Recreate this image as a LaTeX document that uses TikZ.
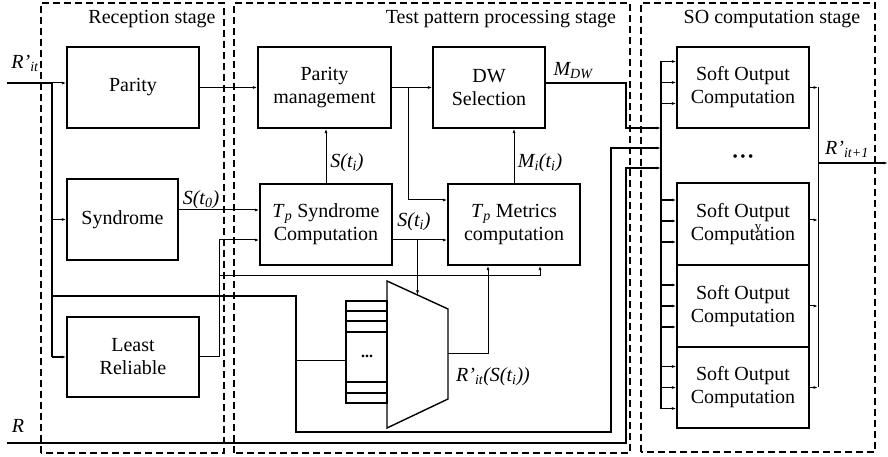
\documentclass[tikz,border=0pt]{standalone}
\usepackage{fontspec}
\setmainfont{Liberation Serif}
\usetikzlibrary{arrows.meta, calc, positioning}

\tikzset{
  blk/.style={draw, line width=1.4pt, minimum width=132pt, minimum height=81pt, align=center, inner sep=2pt, font=\fontsize{20}{23}\selectfont},
  stagebox/.style={draw, line width=2pt, dash pattern=on 7pt off 4pt},
  stagelbl/.style={font=\fontsize{20}{23}\selectfont},
  sig/.style={font=\fontsize{20}{23}\selectfont\itshape, inner sep=0pt},
  wire/.style={line width=1pt},
  bus/.style={line width=1.7pt},
  arr/.style={-{Latex[length=4.5pt,width=3pt]}},
}

\begin{document}
\begin{tikzpicture}[x=1pt, y=1pt]
  \useasboundingbox (0,0) rectangle (888,457);

  % stages
  \draw[stagebox] (41,4) rectangle (224,454);
  \draw[stagebox] (234,4) rectangle (630,454);
  \draw[stagebox] (641,5) rectangle (875,454);
  \node[stagelbl] (reclbl) at (152,438) {Reception stage};
  \node[stagelbl] (tplbl) at (501,438) {Test pattern processing stage};
  \node[stagelbl] (solbl) at (772,438) {SO computation stage};

  % reception stage
  \node[blk] (parity) at (133,369.5) {Parity};
  \node[blk, minimum width=111pt] (syndrome) at (122.5,237.5) {Syndrome};
  \node[blk, minimum height=80pt] (leastrel) at (133,100) {Least\\Reliable};

  % test pattern processing stage
  \node[blk, minimum width=133pt] (paritymgmt) at (324.5,369.5) {Parity\\management};
  \node[blk, minimum width=112pt] (dwsel) at (489,369.5) {DW\\Selection};
  \node[blk] (tpsyn) at (326,232.5) {\textit{T}\textsubscript{\textit{p}} Syndrome\\Computation};
  \node[blk] (tpmet) at (514,232.5) {\textit{T}\textsubscript{\textit{p}} Metrics\\computation};

  \coordinate (muxtl) at (387,176);
  \coordinate (muxtr) at (448,148);
  \coordinate (muxbr) at (448,58);
  \coordinate (muxbl) at (387,29);
  \draw[line width=1.4pt] (muxtl) -- (muxtr) -- (muxbr) -- (muxbl) -- cycle;
  \node[draw, line width=1.4pt, minimum width=41pt, minimum height=102pt, inner sep=0pt] (regs) at (366.5,105) {};
  \foreach \y in {64,75,125,136,146}
    \draw[line width=1.2pt] (regs.west |- 0,\y) -- (regs.east |- 0,\y);
  \node[font=\fontsize{16}{16}\selectfont\bfseries] (regdots) at (367,101) {...};

  % SO computation stage
  \node[blk, minimum height=81pt] (so1) at (743,369.5) {Soft Output\\Computation};
  \node[font=\fontsize{15}{15}\selectfont] (sodots) at (743,299) {\textbullet\,\textbullet\,\textbullet};
  \node[blk, minimum height=82pt] (so2) at (743,233) {Soft Output\\Computation};
  \node[blk, minimum height=82pt] (so3) at (743,151) {Soft Output\\Computation};
  \node[blk, minimum height=81pt] (so4) at (743,69.5) {Soft Output\\Computation};
  \node[font=\fontsize{13}{13}\selectfont, inner sep=0pt] (stray) at (758,228) {y};

  % R'_it input and its bus
  \coordinate (ritin) at (7,374);
  \coordinate (ritbus) at (52,374);
  \coordinate (ritlow) at (52,161);
  \coordinate (regfeed) at (296,96);
  \coordinate (ritbot) at (296,25);
  \coordinate (ritso) at (611,309);
  \coordinate (sobus) at (661,396);
  \coordinate (sobusend) at (661,48.5);
  \node[sig] (ritlbl) at (25,394) {R’\textsubscript{it}};
  \draw[bus] (ritin) -- (ritbus);
  \draw[wire, arr] (ritbus) -- (ritbus -| parity.west);
  \draw[bus] (ritbus) -- (ritbus |- leastrel.west);
  \draw[bus, arr] (ritbus |- syndrome.west) -- (syndrome.west);
  \draw[bus, arr] (ritbus |- leastrel.west) -- (leastrel.west);
  \draw[bus, arr] (ritlow) -| (ritbot) -| (ritso) -- (ritso -| sobus);
  \draw[wire] (regfeed) -- (regfeed -| regs.west);

  % R input
  \coordinate (rin) at (7,14);
  \coordinate (rso) at (626,289);
  \node[sig] (rlbl) at (18,31) {R};
  \draw[bus, arr] (rin) -| (rso) -- (rso -| sobus);

  % test pattern wires
  \draw[wire, arr] (parity.east) -- (paritymgmt.west);
  \draw[wire, arr] ([yshift=9.5pt]syndrome.east) -- ([yshift=9.5pt]syndrome.east -| tpsyn.west);
  \node[sig] (st0lbl) at (201,257) {S(t\textsubscript{0})};
  \coordinate (lrturn) at (219,217);
  \coordinate (lrfeed) at (219,181);
  \draw[wire, arr] (leastrel.east) -| (lrturn) -- (lrturn -| tpsyn.west);
  \draw[wire, arr] (lrfeed) -| ([xshift=26pt]tpmet.south);
  \draw[wire, arr] (paritymgmt.east) -- (dwsel.west);
  \coordinate (pmtap) at (408,369.5);
  \draw[wire, arr] (pmtap) |- ([yshift=24.5pt]tpmet.west);
  \draw[wire, arr] (tpsyn.north) -- (tpsyn.north |- paritymgmt.south);
  \node[sig] (stilbl) at (347,294) {S(t\textsubscript{i})};
  \draw[wire, arr] ([yshift=-15.5pt]tpsyn.east) -- ([yshift=-15.5pt]tpsyn.east -| tpmet.west);
  \node[sig] (stimlbl) at (414,235) {S(t\textsubscript{i})};
  \coordinate (muxin) at ($(muxtl)!0.5!(muxtr)$);
  \draw[wire, arr] (muxin |- lrturn) -- (muxin);
  \draw[wire, arr] (tpmet.north) -- (tpmet.north |- dwsel.south);
  \node[sig] (milbl) at (540,294) {M\textsubscript{i}(t\textsubscript{i})};
  \coordinate (muxout) at ($(muxtr)!0.5!(muxbr)$);
  \draw[wire, arr] (muxout) -| ([xshift=-26pt]tpmet.south);
  \node[sig] (rstlbl) at (493,80) {R’\textsubscript{it}(S(t\textsubscript{i}))};

  % M_DW to the SO stage
  \coordinate (mdwso) at (626,329);
  \draw[bus, arr] ([yshift=4.5pt]dwsel.east) -| (mdwso) -- (mdwso -| sobus);
  \node[sig] (mdwlbl) at (573,386) {M\textsubscript{DW}};

  % SO inputs and outputs
  \draw[bus] (sobus) -- (sobusend);
  \foreach \b/\o in {so1/5, so2/3, so3/0, so4/0}
    \foreach \d in {21,0,-21}
      \draw[bus, arr] ($(\b.west)+(-16,\o+\d)$) -- ($(\b.west)+(0,\o+\d)$);
  \coordinate (soout) at (818,294);
  \coordinate (ritout) at (888,294);
  \draw[wire] (so1.east -| soout) -- (so4.east -| soout);
  \foreach \b/\o in {so1/0, so2/4, so3/0, so4/0}
    \draw[wire, arr] ([yshift=\o pt]\b.east) -- ([yshift=\o pt]\b.east -| soout);
  \draw[bus, arr] (soout) -- (ritout);
  \node[sig] (ritplbl) at (847,308) {R’\textsubscript{it+1}};
\end{tikzpicture}
\end{document}
